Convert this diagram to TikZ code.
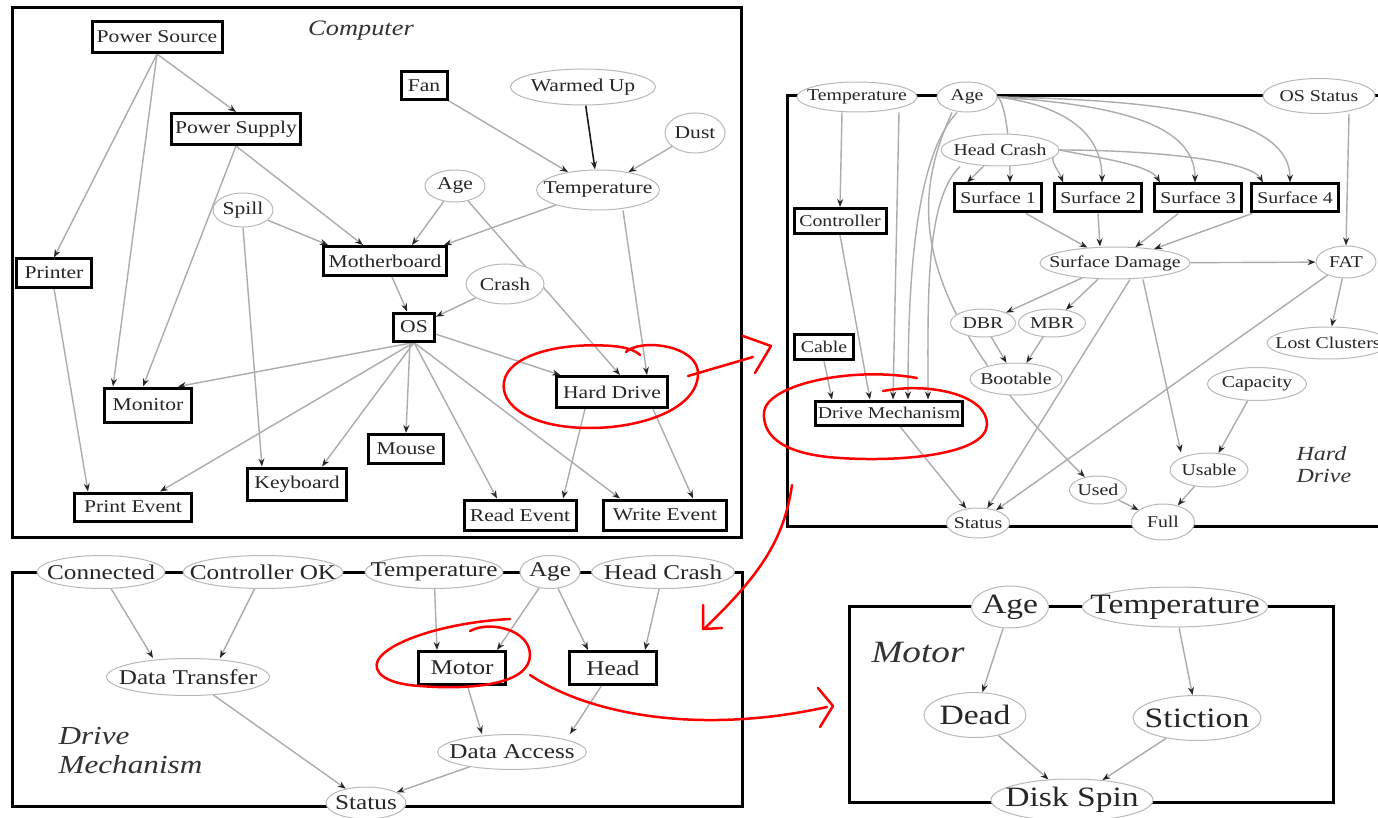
\documentclass[tikz,border=0pt]{standalone}
\usepackage{fontspec}
\usetikzlibrary{shapes.geometric,arrows.meta}
\newfontfamily\nf[FakeStretch=1.2]{Liberation Serif}
\newcommand\mb[1]{\makebox[0pt]{#1}}
\pgfdeclarelayer{bg}
\pgfdeclarelayer{paper}
\pgfsetlayers{paper,bg,main}
\begin{document}
\begin{tikzpicture}[x=1pt,y=-1pt,
  fa/.style={font=\nf\fontsize{18}{20}\selectfont},
  fb/.style={font=\nf\fontsize{16.5}{18}\selectfont},
  fc/.style={font=\nf\fontsize{21}{23}\selectfont},
  fd/.style={font=\nf\fontsize{28}{30}\selectfont},
  box/.style={draw=black, line width=3pt, fill=white, inner sep=2pt, text=black!85},
  ell/.style={ellipse, draw=gray!55, line width=1pt, fill=white, inner sep=0pt, text=black!85},
  edge/.style={draw=gray!65, line width=1.4pt, -{Stealth[black!85, length=8pt, width=6pt]}},
  edgedark/.style={draw=black!90, line width=1.6pt, -{Stealth[black!85, length=8pt, width=6pt]}},
  panel/.style={draw=black, line width=3pt},
  ann/.style={draw=red, line width=2.5pt, line cap=round, line join=round},
  lab/.style={font=\nf\itshape, text=black!80, align=left}
]
\useasboundingbox (0,0) rectangle (1378,818);
\begin{pgfonlayer}{paper}
\fill[white] (0,0) rectangle (1378,818);
\end{pgfonlayer}

% ---------- Computer ----------
\node[lab, font=\nf\itshape\fontsize{22}{24}\selectfont] (tComp) at (361,31) {Computer};
\begin{scope}[fa]
\node[box, minimum width=130pt, minimum height=31pt] (PS) at (157,37) {Power Source};
\node[box, minimum width=129pt, minimum height=31pt] (PSu) at (236,129) {Power Supply};
\node[box, minimum width=46pt, minimum height=28pt] (Fan) at (424,86) {Fan};
\node[ell, minimum width=145pt, minimum height=36pt] (WU) at (583,87) {\mb{Warmed Up}};
\node[ell, minimum width=60pt, minimum height=40pt] (Dust) at (695,133) {\mb{Dust}};
\node[ell, minimum width=123pt, minimum height=40pt] (Temp) at (598,190) {\mb{Temperature}};
\node[ell, minimum width=60pt, minimum height=32pt] (Age) at (455,186) {\mb{Age}};
\node[ell, minimum width=60pt, minimum height=34pt] (Spill) at (243,210) {\mb{Spill}};
\node[box, minimum width=123pt, minimum height=29pt] (MB) at (385,261) {Motherboard};
\node[box, minimum width=75pt, minimum height=28pt] (Printer) at (54,273) {Printer};
\node[ell, minimum width=78pt, minimum height=40pt] (Crash) at (505,284) {\mb{Crash}};
\node[box, minimum width=41pt, minimum height=28pt] (OS) at (414,327) {OS};
\node[box, minimum width=87pt, minimum height=34pt] (Monitor) at (148,405) {Monitor};
\node[box, minimum width=75pt, minimum height=29pt] (Mouse) at (406,449) {Mouse};
\node[box, minimum width=99pt, minimum height=32pt] (Keyboard) at (297,484) {Keyboard};
\node[box, minimum width=117pt, minimum height=28pt] (PrintEv) at (133,507) {Print Event};
\node[box, minimum width=111pt, minimum height=31pt] (HD) at (612,392) {Hard Drive};
\node[box, minimum width=112pt, minimum height=30pt] (ReadEv) at (520,515) {Read Event};
\node[box, minimum width=123pt, minimum height=30pt] (WriteEv) at (665,515) {Write Event};
\end{scope}

% ---------- Hard Drive ----------
\node[lab, font=\nf\itshape\fontsize{20}{22}\selectfont, anchor=north west] (tHD) at (1293,443) {Hard\\Drive};
\begin{scope}[fb]
\node[ell, minimum width=120pt, minimum height=30pt] (HTemp) at (857,97) {\mb{Temperature}};
\node[ell, minimum width=60pt, minimum height=30pt] (HAge) at (967,97) {\mb{Age}};
\node[ell, minimum width=112pt, minimum height=35pt] (OSS) at (1319,96) {\mb{OS Status}};
\node[ell, minimum width=118pt, minimum height=32pt] (HC) at (1000,150) {\mb{Head Crash}};
\node[box, minimum width=87pt, minimum height=28pt] (S1) at (998,198) {Surface 1};
\node[box, minimum width=87pt, minimum height=28pt] (S2) at (1098,198) {Surface 2};
\node[box, minimum width=87pt, minimum height=28pt] (S3) at (1198,198) {Surface 3};
\node[box, minimum width=87pt, minimum height=28pt] (S4) at (1295,198) {Surface 4};
\node[box, minimum width=92pt, minimum height=25pt] (Ctrl) at (840,221) {Controller};
\node[ell, minimum width=150pt, minimum height=32pt] (SD) at (1115,263) {\mb{Surface Damage}};
\node[ell, minimum width=60pt, minimum height=32pt] (FAT) at (1346,262) {\mb{FAT}};
\node[ell, minimum width=65pt, minimum height=28pt] (DBR) at (983,323) {\mb{DBR}};
\node[ell, minimum width=67pt, minimum height=28pt] (MBR) at (1052,323) {\mb{MBR}};
\node[ell, minimum width=92pt, minimum height=32pt] (Boot) at (1016,379) {\mb{Bootable}};
\node[ell, minimum width=122pt, minimum height=32pt] (LC) at (1328,343) {\mb{Lost Clusters}};
\node[ell, minimum width=99pt, minimum height=33pt] (Cap) at (1257,384) {\mb{Capacity}};
\node[ell, minimum width=78pt, minimum height=34pt] (Usable) at (1209,470) {\mb{Usable}};
\node[ell, minimum width=57pt, minimum height=28pt] (Used) at (1098,490) {\mb{Used}};
\node[ell, minimum width=63pt, minimum height=36pt] (Full) at (1163,522) {\mb{Full}};
\node[ell, minimum width=63pt, minimum height=30pt] (HStatus) at (978,523) {\mb{Status}};
\node[box, minimum width=59pt, minimum height=25pt] (Cable) at (824,347) {Cable};
\node[box, minimum width=146pt, minimum height=24pt] (DM) at (889,413) {Drive Mechanism};
\end{scope}

% ---------- Drive Mechanism ----------
\node[lab, font=\nf\itshape\fontsize{26}{29}\selectfont, anchor=north west] (tDM) at (55,724) {Drive\\Mechanism};
\begin{scope}[fc]
\node[ell, minimum width=128pt, minimum height=33pt] (Conn) at (101,572) {\mb{Connected}};
\node[ell, minimum width=160pt, minimum height=33pt] (COK) at (263,572) {\mb{Controller OK}};
\node[ell, minimum width=138pt, minimum height=33pt] (DTemp) at (434,572) {\mb{Temperature}};
\node[ell, minimum width=60pt, minimum height=33pt] (DAge) at (550,572) {\mb{Age}};
\node[ell, minimum width=143pt, minimum height=33pt] (DHC) at (663,572) {\mb{Head Crash}};
\node[ell, minimum width=163pt, minimum height=37pt] (DT) at (188,677) {\mb{Data Transfer}};
\node[box, minimum width=87pt, minimum height=33pt] (Motor) at (462,668) {Motor};
\node[box, minimum width=87pt, minimum height=33pt] (Head) at (613,668) {Head};
\node[ell, minimum width=149pt, minimum height=35pt] (DA) at (512,752) {\mb{Data Access}};
\node[ell, minimum width=80pt, minimum height=32pt] (DStatus) at (366,803) {\mb{Status}};
\end{scope}

% ---------- Motor ----------
\node[lab, font=\nf\itshape\fontsize{31}{33}\selectfont] (tMotor) at (918,652) {Motor};
\begin{scope}[fd]
\node[ell, minimum width=77pt, minimum height=42pt] (MAge) at (1010,607) {\mb{Age}};
\node[ell, minimum width=185pt, minimum height=40pt] (MTemp) at (1175,607) {\mb{Temperature}};
\node[ell, minimum width=102pt, minimum height=45pt] (Dead) at (975,715) {\mb{Dead}};
\node[ell, minimum width=128pt, minimum height=45pt] (Stiction) at (1197,718) {\mb{Stiction}};
\node[ell, minimum width=162pt, minimum height=42pt] (DiskSpin) at (1072,800) {\mb{Disk Spin}};
\end{scope}

\begin{pgfonlayer}{bg}
% panels
\draw[panel] (12,8) rectangle (741,537);
\draw[panel] (787,96) rectangle (1400,526);
\draw[panel] (12,572) rectangle (742,806);
\draw[panel] (849,606) rectangle (1333,802);

% Computer edges
\draw[edge] (PS.south) -- (PSu.north);
\draw[edge] (PS.south) -- (Printer.north);
\draw[edge] (PS.south) -- ([xshift=-35]Monitor.north);
\draw[edge] (PSu.south) -- ([xshift=-5]Monitor.north);
\draw[edge] (PSu.south) -- ([xshift=-22]MB.north);
\draw[edge] (Spill) -- ([xshift=6]MB.north west);
\draw[edge] (Spill.south) -- ([xshift=-35]Keyboard.north);
\draw[edge] (Age) -- ([xshift=27]MB.north);
\draw[edge] (Temp) -- ([xshift=-4]MB.north east);
\draw[edge] (Fan) -- (Temp);
\draw[edgedark] (WU) -- (Temp);
\draw[edge] (Dust) -- (Temp);
\draw[edge] ([xshift=25]Temp.south) -- ([xshift=35]HD.north);
\draw[edge] (Age) -- ([xshift=8]HD.north);
\draw[edge] (MB) -- (OS);
\draw[edge] (Crash) -- (OS);
\draw[edge] (OS.south) -- ([xshift=-15]Monitor.north east);
\draw[edge] (OS.south) -- ([xshift=27]PrintEv.north);
\draw[edge] (OS.south) -- ([xshift=25]Keyboard.north);
\draw[edge] ([xshift=-4]OS.south) -- (Mouse.north);
\draw[edge] (OS.south) -- ([xshift=-23]ReadEv.north);
\draw[edge] (OS.south) -- ([xshift=-45]WriteEv.north);
\draw[edge] (OS) -- (HD);
\draw[edge] (Printer.south) -- ([xshift=-45]PrintEv.north);
\draw[edge] ([xshift=-27]HD.south) -- ([xshift=43]ReadEv.north);
\draw[edge] ([xshift=41]HD.south) -- ([xshift=28]WriteEv.north);

% Hard Drive edges
\draw[edge] ([xshift=-15]HTemp.south) -- (Ctrl.north);
\draw[edge] ([xshift=42]HTemp.south) -- ([xshift=4]DM.north);
\draw[edge] ([xshift=-10]HAge.south) .. controls (912,160) and (908,300) .. ([xshift=19]DM.north);
\draw[edge] ([xshift=-40]HC.south) .. controls (925,200) and (928,300) .. ([xshift=39]DM.north);
\draw[edge] ([xshift=-15]HAge.south) .. controls (912,200) and (905,300) .. (Used);
\draw[edge] (HAge.east) .. controls (1005,102) and (1010,140) .. ([xshift=12]S1.north);
\draw[edge] (HAge.east) .. controls (1060,105) and (1102,130) .. ([xshift=4]S2.north);
\draw[edge] (HAge.east) .. controls (1120,105) and (1195,125) .. ([xshift=-3]S3.north);
\draw[edge] (HAge.east) .. controls (1180,100) and (1290,120) .. ([xshift=-5]S4.north);
\draw[edge] (HC) -- ([xshift=-31]S1.north);
\draw[edge] (HC.east) .. controls (1045,158) and (1058,168) .. ([xshift=-35]S2.north);
\draw[edge] (HC.east) .. controls (1100,158) and (1150,165) .. ([xshift=-38]S3.north);
\draw[edge] (HC.east) .. controls (1150,150) and (1250,160) .. ([xshift=-32]S4.north);
\draw[edge] (S1) -- (SD);
\draw[edge] (S2.south) -- ([xshift=-15]SD.north);
\draw[edge] (S3) -- (SD);
\draw[edge] (S4) -- (SD);
\draw[edge] ([xshift=30]OSS.south) -- (FAT.north);
\draw[edge] (SD) -- (FAT);
\draw[edge] (SD) -- (DBR);
\draw[edge] (SD) -- (MBR);
\draw[edge] (DBR) -- (Boot);
\draw[edge] (MBR) -- (Boot);
\draw[edge] ([xshift=15]SD.south) -- (HStatus);
\draw[edge] (FAT) -- (HStatus);
\draw[edge] ([xshift=28]SD.south) -- ([xshift=-28]Usable.north);
\draw[edge] (FAT) -- (LC);
\draw[edge] (Cap) -- (Usable);
\draw[edge] (Used) -- (Full);
\draw[edge] (Usable) -- (Full);
\draw[edge] (DM) -- (HStatus);
\draw[edge] (Cable.south) -- ([xshift=-57]DM.north);
\draw[edge] (Ctrl.south) -- ([xshift=-19]DM.north);

% Drive Mechanism edges
\draw[edge] (Conn) -- ([xshift=-35]DT.north);
\draw[edge] (COK) -- ([xshift=32]DT.north);
\draw[edge] (DTemp) -- ([xshift=-25]Motor.north);
\draw[edge] (DAge) -- ([xshift=35]Motor.north);
\draw[edge] (DAge) -- ([xshift=-25]Head.north);
\draw[edge] (DHC) -- ([xshift=32]Head.north);
\draw[edge] (Motor) -- ([xshift=-30]DA.north);
\draw[edge] (Head) -- ([xshift=58]DA.north);
\draw[edge] (DT) -- (DStatus);
\draw[edge] (DA) -- (DStatus);

% Motor edges
\draw[edge] (MAge) -- (Dead);
\draw[edge] (MTemp) -- (Stiction);
\draw[edge] (Dead) -- (DiskSpin);
\draw[edge] (Stiction) -- (DiskSpin);
\end{pgfonlayer}

% ---------- red annotations ----------
\draw[ann] (626,352) .. controls (640,338) and (700,345) .. (698,375)
  .. controls (696,410) and (640,428) .. (590,428)
  .. controls (530,428) and (500,405) .. (504,382)
  .. controls (508,355) and (560,342) .. (612,346)
  .. controls (625,347) and (635,350) .. (640,355);
\draw[ann] (688,376) -- (753,357);
\draw[ann] (743,336) -- (771,346) -- (755,373);

\draw[ann] (883,391) .. controls (930,382) and (988,395) .. (987,425)
  .. controls (985,455) and (900,462) .. (840,458)
  .. controls (790,455) and (762,440) .. (764,412)
  .. controls (767,385) and (850,366) .. (917,378);

\draw[ann] (792,485) .. controls (784,540) and (760,575) .. (704,629);
\draw[ann] (703,605) -- (703,629) -- (722,628);

\draw[ann] (470,631) .. controls (490,620) and (530,630) .. (530,655)
  .. controls (530,685) and (470,690) .. (420,686)
  .. controls (385,684) and (372,672) .. (378,660)
  .. controls (390,640) and (450,622) .. (510,619);

\draw[ann] (530,675) .. controls (590,715) and (700,735) .. (827,707);
\draw[ann] (818,688) -- (833,706) -- (820,727);
\end{tikzpicture}
\end{document}
